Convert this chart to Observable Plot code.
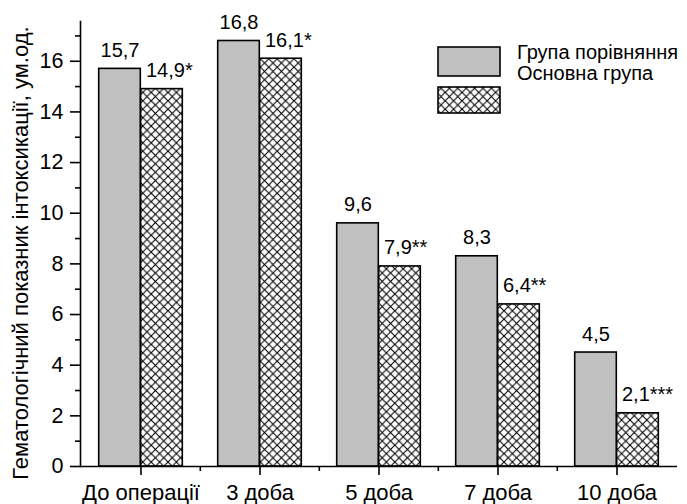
<!DOCTYPE html>
<html><head><meta charset="utf-8">
<script src="https://cdn.jsdelivr.net/npm/d3@7"></script>
<script src="https://cdn.jsdelivr.net/npm/@observablehq/plot@0.6"></script>
<style>
body{margin:0;background:#fff}
#chart svg{font-family:"Liberation Sans",Arial,sans-serif;overflow:visible}
</style>
</head><body><div id="chart"></div>
<script>
const categories = ["До операції", "3 доба", "5 доба", "7 доба", "10 доба"];
const groups = ["Група порівняння", "Основна група"];
const comparisonValues = [15.7, 16.8, 9.6, 8.3, 4.5];
const mainValues = [14.9, 16.1, 7.9, 6.4, 2.1];
const mainSignif = ["*", "*", "**", "**", "***"];
const yTicks = [0, 2, 4, 6, 8, 10, 12, 14, 16];
const yMinorTicks = [1, 3, 5, 7, 9, 11, 13, 15, 17];
const yTitle = "Гематологічний показник інтоксикації, ум.од.";

const fmt = v => String(v).replace(".", ",");
const rowsA = categories.map((c, i) => ({cat: c, group: groups[0], value: comparisonValues[i], label: fmt(comparisonValues[i])}));
const rowsB = categories.map((c, i) => ({cat: c, group: groups[1], value: mainValues[i], label: fmt(mainValues[i]) + mainSignif[i]}));

const W = 687, H = 504;
const mL = 80, mR = 10, mT = 21, mB = 38;
const bw = (W - mL - mR) / categories.length; // band width
const barW = 42;
const SW = 1.6;
const FONT = "'Liberation Sans', Arial, sans-serif";

const plot = Plot.plot({
  width: W, height: H,
  marginLeft: mL, marginRight: mR, marginTop: mT, marginBottom: mB,
  style: {fontSize: "20px", fontFamily: FONT, color: "black", background: "white"},
  x: {domain: categories, paddingInner: 0, paddingOuter: 0, label: null},
  y: {domain: [0, 17.57], label: null},
  marks: [
    Plot.barY(rowsA, {x: "cat", y: "value", fill: "#c0c0c0", stroke: "black", strokeWidth: SW,
      insetLeft: bw / 2 - barW, insetRight: bw / 2}),
    Plot.barY(rowsB, {x: "cat", y: "value", fill: "url(#hatch)", stroke: "black", strokeWidth: SW,
      insetLeft: bw / 2, insetRight: bw / 2 - barW}),
    Plot.text(rowsA, {x: "cat", y: "value", text: "label", dx: -barW / 2, dy: -12, lineAnchor: "bottom", fontSize: 20, fill: "black"}),
    Plot.text(rowsB, {x: "cat", y: "value", text: "label", dx: 5, dy: -12, lineAnchor: "bottom", textAnchor: "start", fontSize: 20, fill: "black"}),
    Plot.axisY({ticks: yTicks, tickSize: 10, tickPadding: 7, strokeWidth: SW, label: null, fontSize: 21.5}),
    Plot.axisY({ticks: yMinorTicks, tickSize: 5, text: null, strokeWidth: SW, label: null}),
    Plot.axisX({tickSize: 9, tickPadding: 9, strokeWidth: SW, label: null, fontSize: 22}),
    Plot.axisX(categories.slice(1), {tickSize: 5, text: null, dx: -bw / 2, strokeWidth: SW, label: null}),
    Plot.ruleY([0], {strokeWidth: SW}),
    Plot.frame({anchor: "left", strokeWidth: SW})
  ]
});

const svg = d3.select(plot);
const defs = svg.insert("defs", ":first-child");
const pat = defs.append("pattern").attr("id", "hatch").attr("patternUnits", "userSpaceOnUse")
  .attr("width", 8.4).attr("height", 8.4);
pat.append("rect").attr("width", 8.4).attr("height", 8.4).attr("fill", "white");
pat.append("path").attr("d", "M0,0L8.4,8.4M8.4,0L0,8.4").attr("stroke", "black").attr("stroke-width", 1.1).attr("fill", "none");

// y title
svg.append("text").attr("transform", "translate(28,253) rotate(-90)")
  .attr("text-anchor", "middle").attr("font-size", 22).attr("fill", "black").text(yTitle);

// legend
const lg = svg.append("g").attr("text-anchor", "start").attr("font-size", 20);
lg.append("rect").attr("x", 438).attr("y", 47).attr("width", 62).attr("height", 29)
  .attr("fill", "#c0c0c0").attr("stroke", "black").attr("stroke-width", SW);
lg.append("rect").attr("x", 438).attr("y", 87).attr("width", 62).attr("height", 26)
  .attr("fill", "url(#hatch)").attr("stroke", "black").attr("stroke-width", SW);
lg.append("text").attr("x", 517).attr("y", 59).attr("fill", "black").text(groups[0]);
lg.append("text").attr("x", 517).attr("y", 80).attr("fill", "black").text(groups[1]);

document.getElementById("chart").appendChild(plot);
</script>
</body></html>
